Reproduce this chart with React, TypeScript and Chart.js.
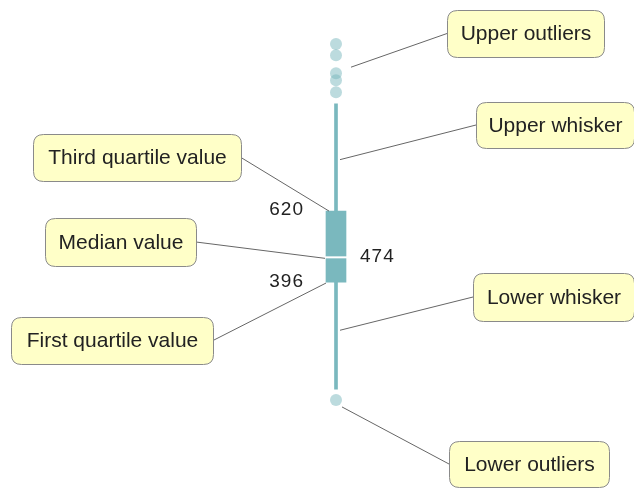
import React, { useEffect, useRef } from "react";
import { Chart, registerables } from "chart.js";

Chart.register(...registerables);

const categories = ["Sample"];
const firstQuartile = 396;
const medianValue = 474;
const thirdQuartile = 620;
const lowerWhiskerValue = 58;
const upperWhiskerValue = 958;
const upperOutliers = [1147, 1112, 1055, 1033, 995];
const lowerOutliers = [24];

const calloutTexts = [
  "Upper outliers",
  "Upper whisker",
  "Third quartile value",
  "Median value",
  "First quartile value",
  "Lower whisker",
  "Lower outliers",
];

const TEAL = "#7ab8be";
const FONT = '"Liberation Sans", Arial, sans-serif';

function roundRect(ctx: CanvasRenderingContext2D, x: number, y: number, w: number, h: number, r: number) {
  ctx.beginPath();
  ctx.moveTo(x + r, y);
  ctx.lineTo(x + w - r, y);
  ctx.quadraticCurveTo(x + w, y, x + w, y + r);
  ctx.lineTo(x + w, y + h - r);
  ctx.quadraticCurveTo(x + w, y + h, x + w - r, y + h);
  ctx.lineTo(x + r, y + h);
  ctx.quadraticCurveTo(x, y + h, x, y + h - r);
  ctx.lineTo(x, y + r);
  ctx.quadraticCurveTo(x, y, x + r, y);
  ctx.closePath();
}

const annotationPlugin = {
  id: "boxAnnotations",
  afterDatasetsDraw(chart: any) {
    const ctx: CanvasRenderingContext2D = chart.ctx;
    const ys = chart.scales.y;
    const py = (v: number) => ys.getPixelForValue(v);
    const boxEl = chart.getDatasetMeta(1).data[0];
    const cx = boxEl.x;
    const bw = boxEl.width;
    const boxLeft = cx - bw / 2;
    const boxRight = cx + bw / 2;

    // median gap
    ctx.save();
    ctx.strokeStyle = "#ffffff";
    ctx.lineWidth = 2;
    ctx.beginPath();
    ctx.moveTo(boxLeft - 1, py(medianValue));
    ctx.lineTo(boxRight + 1, py(medianValue));
    ctx.stroke();

    // value labels
    ctx.fillStyle = "#222222";
    ctx.font = "19px " + FONT;
    (ctx as any).letterSpacing = "1px";
    ctx.textBaseline = "middle";
    ctx.textAlign = "right";
    ctx.fillText(String(thirdQuartile), boxLeft - 22, py(thirdQuartile) - 1);
    ctx.fillText(String(firstQuartile), boxLeft - 22, py(firstQuartile));
    ctx.textAlign = "left";
    ctx.fillText(String(medianValue), boxRight + 14, py(medianValue) - 1);
    (ctx as any).letterSpacing = "0px";

    const callouts = [
      { box: [447, 10, 157, 47], side: "left", target: [cx + 15, (py(upperOutliers[1]) + py(upperOutliers[2])) / 2 + 3] },
      { box: [476, 102, 158, 46], side: "left", target: [cx + 4, py(thirdQuartile + (upperWhiskerValue - thirdQuartile) * 0.48)] },
      { box: [33, 134, 208, 47], side: "right", target: [boxLeft + 3, py(thirdQuartile)] },
      { box: [45, 218, 151, 48], side: "right", target: [boxLeft - 1, py(medianValue) + 1] },
      { box: [11, 317, 202, 47], side: "right", target: [boxLeft, py(firstQuartile) + 1] },
      { box: [473, 273, 161, 48], side: "left", target: [cx + 4, py(firstQuartile - (firstQuartile - lowerWhiskerValue) * 0.45)] },
      { box: [449, 441, 160, 46], side: "left", target: [cx + 6, py(lowerOutliers[0]) + 7] },
    ];

    // leader lines
    ctx.strokeStyle = "#666666";
    ctx.lineWidth = 1;
    callouts.forEach((c) => {
      const [x, y, w, h] = c.box;
      const sx = c.side === "left" ? x : x + w;
      const sy = y + h / 2;
      ctx.beginPath();
      ctx.moveTo(sx, sy);
      ctx.lineTo(c.target[0], c.target[1]);
      ctx.stroke();
    });

    // callout boxes
    ctx.font = "21px " + FONT;
    ctx.textAlign = "center";
    ctx.textBaseline = "middle";
    callouts.forEach((c, i) => {
      const [x, y, w, h] = c.box;
      roundRect(ctx, x + 0.5, y + 0.5, w, h, 10);
      ctx.fillStyle = "#ffffc8";
      ctx.fill();
      ctx.strokeStyle = "#8a8a8a";
      ctx.lineWidth = 1;
      ctx.stroke();
      ctx.fillStyle = "#222222";
      ctx.fillText(calloutTexts[i], x + w / 2 + 0.5, y + h / 2 + 1);
    });
    ctx.restore();
  },
};

export default function App() {
  const ref = useRef<HTMLCanvasElement | null>(null);
  useEffect(() => {
    document.body.style.margin = "0";
    const canvas = ref.current;
    if (!canvas) return;
    const chart = new Chart(canvas, {
      type: "bar",
      data: {
        labels: categories,
        datasets: [
          {
            type: "line",
            label: "Outliers",
            data: [...upperOutliers, ...lowerOutliers].map((v) => ({ x: categories[0], y: v })),
            showLine: false,
            pointRadius: 6,
            pointBackgroundColor: "rgba(122,184,190,0.5)",
            pointBorderWidth: 0,
            pointBorderColor: "rgba(0,0,0,0)",
          } as any,
          {
            label: "Box",
            data: [[firstQuartile, thirdQuartile]] as any,
            backgroundColor: TEAL,
            barThickness: 20,
            grouped: false,
          },
          {
            label: "Whisker",
            data: [[lowerWhiskerValue, upperWhiskerValue]] as any,
            backgroundColor: TEAL,
            barThickness: 3,
            grouped: false,
          },
        ],
      },
      options: {
        responsive: false,
        animation: false,
        devicePixelRatio: 1,
        layout: { autoPadding: false, padding: { left: 38, right: 0, top: 0, bottom: 0 } },
        scales: {
          x: { display: false },
          y: { display: false, min: -257, max: 1286 },
        },
        plugins: { legend: { display: false }, tooltip: { enabled: false } },
      } as any,
      plugins: [annotationPlugin],
    });
    return () => chart.destroy();
  }, []);
  return (
    <div style={{ width: 634, height: 489, background: "#ffffff" }}>
      <canvas ref={ref} width={634} height={489} />
    </div>
  );
}
